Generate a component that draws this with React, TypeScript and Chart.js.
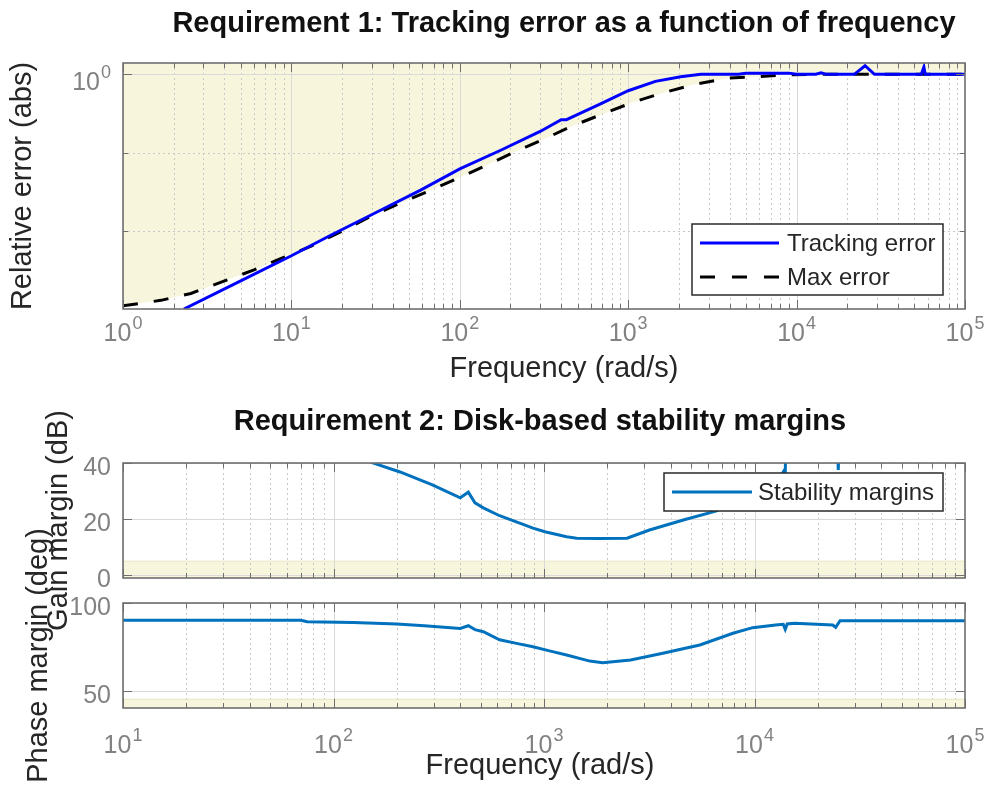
import React, { useEffect, useRef } from 'react';
import { Chart, registerables } from 'chart.js';

Chart.register(...registerables);

const W = 992;
const H = 788;
const FONT = "'Liberation Sans', Arial, Helvetica, sans-serif";
const YELLOW = '#f7f6dc';
const AXIS = '#6f6f6f';
const TICKTXT = '#828282';
const LABEL = '#262626';

// ---------------- Requirement 1: tracking error (relative error, abs) ----------------
const trackingFreq = [2.3, 5, 10, 17, 31.6, 58.5, 100, 175, 300, 400, 430, 460, 680, 1000, 1450, 2050, 2700, 4500, 5000, 9000, 10000, 13000, 14000, 15000, 22000, 25500, 29000, 55000, 57000, 58000, 100000];
const trackingError = [0.001, 0.00229, 0.00479, 0.00871, 0.017, 0.0331, 0.0617, 0.107, 0.186, 0.263, 0.263, 0.282, 0.417, 0.617, 0.813, 0.933, 1.0, 1.005, 1.035, 1.035, 1.0, 1.0, 1.047, 1.0, 1.0, 1.288, 1.0, 1.0, 1.239, 1.0, 1.0];
const maxErrFreq = [1, 1.68, 2.53, 3.9, 6, 9, 13, 18.9, 28.7, 43, 64, 94.5, 142, 208, 315, 467, 700, 1060, 1650, 2450, 3900, 5800, 8300, 12000, 100000];
const maxErrValue = [0.0011, 0.00129, 0.00158, 0.00224, 0.00316, 0.00457, 0.00631, 0.00933, 0.0148, 0.0219, 0.0316, 0.0457, 0.0676, 0.1, 0.148, 0.219, 0.309, 0.437, 0.589, 0.741, 0.891, 0.933, 0.977, 1.0, 1.0];

// ---------------- Requirement 2: disk-based stability margins ----------------
const gainFreq = [150, 207, 295, 400, 437, 470, 515, 615, 750, 887, 1010, 1280, 1430, 1800, 2480, 3170, 4590, 6600, 9000, 12000, 13500, 13800, 14000, 14200, 24500, 25000, 25500, 100000];
const gainMargin = [40.3, 36.8, 32.2, 27.6, 29.6, 25.8, 24.0, 21.2, 18.8, 16.8, 15.5, 13.7, 13.2, 13.1, 13.2, 16.1, 19.7, 22.9, 28.5, 33.5, 36.0, 37.2, 36.8, 60, 60, 37.5, 60, 60];
const phaseFreq = [10, 70, 75, 124, 200, 270, 400, 437, 470, 515, 615, 750, 887, 1050, 1280, 1650, 1900, 2580, 3670, 5500, 7900, 9800, 12600, 13700, 14000, 14300, 15500, 23500, 24300, 25500, 100000];
const phaseMargin = [90.1, 90.1, 89.3, 88.9, 88.0, 87.0, 85.5, 87.0, 84.8, 83.6, 79.0, 76.8, 75.0, 72.8, 70.3, 66.8, 65.9, 67.4, 71.3, 76.0, 82.7, 85.9, 87.4, 87.8, 85.0, 88.0, 88.4, 87.4, 86.1, 89.9, 89.9];
const gainBoundFreq = [10, 100000];
const gainBoundDb = [5, 5];
const phaseBoundFreq = [10, 100000];
const phaseBoundDeg = [45, 45];

// ---------------- Axes ticks ----------------
const topDecades = [1, 10, 100, 1000, 10000, 100000];
const topDecadeExp = ['0', '1', '2', '3', '4', '5'];
const bottomDecades = [10, 100, 1000, 10000, 100000];
const bottomDecadeExp = ['1', '2', '3', '4', '5'];
const errMajor = [1];
const errMinor = [0.1, 0.01];
const gainTicks = [0, 20, 40];
const gainTickLabels = ['0', '20', '40'];
const phaseTicks = [50, 100];
const phaseTickLabels = ['50', '100'];

const TITLE1 = 'Requirement 1: Tracking error as a function of frequency';
const TITLE2 = 'Requirement 2: Disk-based stability margins';
const XLABEL = 'Frequency (rad/s)';

type Area = { left: number; top: number; right: number; bottom: number; labelLeft: number };
type TextItem = { text: string; x: number; y: number; font: string; color: string };
type LegendItem = { x1: number; x2: number; y: number; color: string; width: number; dash: number[]; text: string; tx: number };
type Spec = {
  area: Area;
  xMin: number;
  xMax: number;
  xMajor: number[];
  xExp: string[];
  xLabelBaseline: number | null;
  yMajor: number[];
  yMinor: number[];
  yGridMajor: number[];
  yLabels: { v: number; base: string; sup?: string }[];
  yLabelBaselineOffset: number;
  legend?: { box: [number, number, number, number]; items: LegendItem[] };
  texts: TextItem[];
};

function seg(ctx: CanvasRenderingContext2D, x1: number, y1: number, x2: number, y2: number) {
  ctx.beginPath();
  ctx.moveTo(x1, y1);
  ctx.lineTo(x2, y2);
  ctx.stroke();
}

function minorLog(min: number, max: number) {
  const out: number[] = [];
  for (let d = min; d < max; d *= 10) {
    for (let k = 2; k <= 9; k++) out.push(k * d);
  }
  return out;
}

function drawPow(ctx: CanvasRenderingContext2D, base: string, sup: string | undefined, x: number, y: number, align: 'center' | 'right') {
  ctx.font = `25px ${FONT}`;
  const wb = ctx.measureText(base).width;
  ctx.font = `18px ${FONT}`;
  const ws = sup ? ctx.measureText(sup).width + 1 : 0;
  const total = wb + ws;
  const left = align === 'center' ? x - total / 2 : x - total;
  ctx.textAlign = 'left';
  ctx.textBaseline = 'alphabetic';
  ctx.font = `25px ${FONT}`;
  ctx.fillText(base, left, y);
  if (sup) {
    ctx.font = `18px ${FONT}`;
    ctx.fillText(sup, left + wb + 1, y - 12);
  }
}

function framePlugin(spec: Spec) {
  return {
    id: 'matlabFrame',
    beforeDatasetsDraw(chart: any) {
      const { ctx, chartArea: a } = chart;
      const xs = chart.scales.x;
      const ys = chart.scales.y;
      ctx.save();
      ctx.beginPath();
      ctx.rect(a.left, a.top, a.right - a.left, a.bottom - a.top);
      ctx.clip();
      ctx.lineWidth = 1;
      ctx.strokeStyle = '#c8c8c8';
      ctx.setLineDash([2, 3]);
      for (const v of minorLog(spec.xMin, spec.xMax)) {
        const p = Math.round(xs.getPixelForValue(v)) + 0.5;
        seg(ctx, p, a.top, p, a.bottom);
      }
      for (const v of spec.yMinor) {
        const p = Math.round(ys.getPixelForValue(v)) + 0.5;
        seg(ctx, a.left, p, a.right, p);
      }
      ctx.setLineDash([]);
      ctx.strokeStyle = '#d9d9d9';
      for (const v of spec.xMajor) {
        const p = Math.round(xs.getPixelForValue(v)) + 0.5;
        seg(ctx, p, a.top, p, a.bottom);
      }
      for (const v of spec.yGridMajor) {
        const p = Math.round(ys.getPixelForValue(v)) + 0.5;
        seg(ctx, a.left, p, a.right, p);
      }
      ctx.restore();
    },
    afterDatasetsDraw(chart: any) {
      const { ctx, chartArea: a } = chart;
      const xs = chart.scales.x;
      const ys = chart.scales.y;
      ctx.save();
      ctx.strokeStyle = AXIS;
      ctx.lineWidth = 1;
      // x ticks (inward, bottom and top)
      for (const v of minorLog(spec.xMin, spec.xMax)) {
        const p = Math.round(xs.getPixelForValue(v)) + 0.5;
        seg(ctx, p, a.bottom, p, a.bottom - 5);
        seg(ctx, p, a.top, p, a.top + 5);
      }
      for (const v of spec.xMajor) {
        const p = Math.round(xs.getPixelForValue(v)) + 0.5;
        seg(ctx, p, a.bottom, p, a.bottom - 9);
        seg(ctx, p, a.top, p, a.top + 9);
      }
      // y ticks (inward, left and right)
      for (const v of spec.yMinor) {
        const p = Math.round(ys.getPixelForValue(v)) + 0.5;
        seg(ctx, a.left, p, a.left + 5, p);
        seg(ctx, a.right, p, a.right - 5, p);
      }
      for (const v of spec.yMajor) {
        const p = Math.round(ys.getPixelForValue(v)) + 0.5;
        seg(ctx, a.left, p, a.left + 9, p);
        seg(ctx, a.right, p, a.right - 9, p);
      }
      // axes box
      ctx.lineWidth = 1.6;
      ctx.strokeRect(a.left, a.top, a.right - a.left, a.bottom - a.top);

      // tick labels
      ctx.fillStyle = TICKTXT;
      if (spec.xLabelBaseline !== null) {
        spec.xMajor.forEach((v, i) => {
          drawPow(ctx, '10', spec.xExp[i], xs.getPixelForValue(v), spec.xLabelBaseline as number, 'center');
        });
      }
      for (const l of spec.yLabels) {
        drawPow(ctx, l.base, l.sup, a.left - 12, ys.getPixelForValue(l.v) + spec.yLabelBaselineOffset, 'right');
      }

      // legend
      if (spec.legend) {
        const [x1, y1, x2, y2] = spec.legend.box;
        ctx.fillStyle = '#ffffff';
        ctx.fillRect(x1, y1, x2 - x1, y2 - y1);
        ctx.strokeStyle = '#2a2a2a';
        ctx.lineWidth = 1.5;
        ctx.strokeRect(x1, y1, x2 - x1, y2 - y1);
        for (const it of spec.legend.items) {
          ctx.strokeStyle = it.color;
          ctx.lineWidth = it.width;
          ctx.setLineDash(it.dash);
          seg(ctx, it.x1, it.y, it.x2, it.y);
          ctx.setLineDash([]);
          ctx.fillStyle = LABEL;
          ctx.font = `24px ${FONT}`;
          ctx.textAlign = 'left';
          ctx.textBaseline = 'middle';
          ctx.fillText(it.text, it.tx, it.y + 1);
        }
      }

      // titles and x labels
      for (const t of spec.texts) {
        ctx.fillStyle = t.color;
        ctx.font = t.font;
        ctx.textAlign = 'center';
        ctx.textBaseline = 'alphabetic';
        ctx.fillText(t.text, t.x, t.y);
      }
      ctx.restore();
    },
  };
}

function pts(xs: number[], ys: number[]) {
  return xs.map((x, i) => ({ x, y: ys[i] }));
}

function makeChart(canvas: HTMLCanvasElement, spec: Spec, yType: string, yMin: number, yMax: number, yTitle: string, datasets: any[]) {
  const area = spec.area;
  return new Chart(canvas, {
    type: 'line',
    data: { datasets },
    options: {
      responsive: false,
      animation: false,
      devicePixelRatio: 1,
      events: [],
      layout: { padding: { left: area.labelLeft, top: area.top, right: W - area.right, bottom: 0 } },
      plugins: {
        legend: { display: false },
        title: { display: false },
        tooltip: { enabled: false },
        filler: { drawTime: 'beforeDraw', propagate: false },
      },
      elements: { point: { radius: 0 }, line: { tension: 0 } },
      scales: {
        x: {
          type: 'logarithmic',
          min: spec.xMin,
          max: spec.xMax,
          grid: { display: false },
          border: { display: false },
          ticks: { display: false },
          afterFit: (s: any) => {
            s.height = H - area.bottom;
          },
        },
        y: {
          type: yType,
          min: yMin,
          max: yMax,
          grid: { display: false },
          border: { display: false },
          ticks: { display: false },
          title: { display: true, text: yTitle, color: LABEL, padding: 0, font: { family: FONT, size: 29 } },
          afterFit: (s: any) => {
            s.width = area.left - area.labelLeft;
          },
        },
      },
    } as any,
    plugins: [framePlugin(spec) as any],
  } as any);
}

export default function App() {
  const c1 = useRef<HTMLCanvasElement>(null);
  const c2 = useRef<HTMLCanvasElement>(null);
  const c3 = useRef<HTMLCanvasElement>(null);

  useEffect(() => {
    const spec1: Spec = {
      area: { left: 123, top: 63, right: 965, bottom: 309, labelLeft: 6 },
      xMin: 1,
      xMax: 100000,
      xMajor: topDecades,
      xExp: topDecadeExp,
      xLabelBaseline: 341,
      yMajor: errMajor,
      yMinor: errMinor,
      yGridMajor: errMajor,
      yLabels: [{ v: 1, base: '10', sup: '0' }],
      yLabelBaselineOffset: 16,
      legend: {
        box: [692, 224, 943, 295],
        items: [
          { x1: 700, x2: 779, y: 243, color: '#0000ff', width: 3, dash: [], text: 'Tracking error', tx: 787 },
          { x1: 700, x2: 779, y: 277, color: '#000000', width: 3, dash: [15, 17], text: 'Max error', tx: 787 },
        ],
      },
      texts: [
        { text: TITLE1, x: 564, y: 32, font: `bold 29px ${FONT}`, color: '#111111' },
        { text: XLABEL, x: 564, y: 377, font: `29px ${FONT}`, color: LABEL },
      ],
    };
    const chart1 = makeChart(c1.current!, spec1, 'logarithmic', 0.001, 1.395, 'Relative error (abs)', [
      {
        label: 'Tracking error',
        data: pts(trackingFreq, trackingError),
        borderColor: '#0000ff',
        borderWidth: 3,
        fill: false,
        clip: 0,
      },
      {
        label: 'Max error',
        data: pts(maxErrFreq, maxErrValue),
        borderColor: '#000000',
        borderWidth: 3,
        borderDash: [15, 16],
        backgroundColor: YELLOW,
        fill: 'end',
        clip: 0,
      },
    ]);

    const spec2: Spec = {
      area: { left: 123, top: 463, right: 965, bottom: 578, labelLeft: 42 },
      xMin: 10,
      xMax: 100000,
      xMajor: bottomDecades,
      xExp: bottomDecadeExp,
      xLabelBaseline: null,
      yMajor: gainTicks,
      yMinor: [],
      yGridMajor: gainTicks,
      yLabels: gainTicks.map((v, i) => ({ v, base: gainTickLabels[i] })),
      yLabelBaselineOffset: 12,
      legend: {
        box: [664, 473, 943, 511],
        items: [{ x1: 672, x2: 752, y: 492, color: '#0072bd', width: 3, dash: [], text: 'Stability margins', tx: 758 }],
      },
      texts: [{ text: TITLE2, x: 540, y: 430, font: `bold 29px ${FONT}`, color: '#111111' }],
    };
    const chart2 = makeChart(c2.current!, spec2, 'linear', -1, 40, 'Gain margin (dB)', [
      {
        label: 'Stability margins',
        data: pts(gainFreq, gainMargin),
        borderColor: '#0072bd',
        borderWidth: 3,
        fill: false,
        clip: 0,
      },
      {
        label: 'Gain margin bound',
        data: pts(gainBoundFreq, gainBoundDb),
        borderColor: '#e6e5c3',
        borderWidth: 1,
        backgroundColor: YELLOW,
        fill: 'start',
        clip: 0,
      },
    ]);

    const spec3: Spec = {
      area: { left: 123, top: 603, right: 965, bottom: 708, labelLeft: 22 },
      xMin: 10,
      xMax: 100000,
      xMajor: bottomDecades,
      xExp: bottomDecadeExp,
      xLabelBaseline: 753,
      yMajor: phaseTicks,
      yMinor: [],
      yGridMajor: phaseTicks,
      yLabels: phaseTicks.map((v, i) => ({ v, base: phaseTickLabels[i] })),
      yLabelBaselineOffset: 12,
      texts: [{ text: XLABEL, x: 540, y: 774, font: `29px ${FONT}`, color: LABEL }],
    };
    const chart3 = makeChart(c3.current!, spec3, 'linear', 40, 100, 'Phase margin (deg)', [
      {
        label: 'Stability margins',
        data: pts(phaseFreq, phaseMargin),
        borderColor: '#0072bd',
        borderWidth: 3,
        fill: false,
        clip: 0,
      },
      {
        label: 'Phase margin bound',
        data: pts(phaseBoundFreq, phaseBoundDeg),
        borderColor: '#e6e5c3',
        borderWidth: 1,
        backgroundColor: YELLOW,
        fill: 'start',
        clip: 0,
      },
    ]);

    return () => {
      chart1.destroy();
      chart2.destroy();
      chart3.destroy();
    };
  }, []);

  const cs: React.CSSProperties = { position: 'absolute', left: 0, top: 0, width: W, height: H };
  return (
    <div style={{ position: 'absolute', left: 0, top: 0, width: W, height: H, background: '#ffffff' }}>
      <canvas ref={c1} width={W} height={H} style={cs} />
      <canvas ref={c2} width={W} height={H} style={cs} />
      <canvas ref={c3} width={W} height={H} style={cs} />
    </div>
  );
}
